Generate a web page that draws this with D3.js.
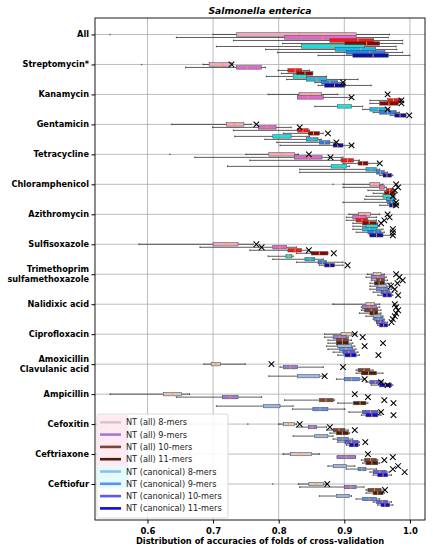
<!DOCTYPE html>
<html><head><meta charset="utf-8">
<script src="https://cdn.jsdelivr.net/npm/d3@7"></script>
<style>body{margin:0;background:#fff} svg{display:block}</style>
</head><body><svg id="c" width="433" height="550"></svg>
<script>
const categories = ["All","Streptomycin*","Kanamycin","Gentamicin","Tetracycline","Chloramphenicol","Azithromycin","Sulfisoxazole","Trimethoprim\nsulfamethoxazole","Nalidixic acid","Ciprofloxacin","Amoxicillin\nClavulanic acid","Ampicillin","Cefoxitin","Ceftriaxone","Ceftiofur"];
const seriesNames = ["NT (all) 8-mers","NT (all) 9-mers","NT (all) 10-mers","NT (all) 11-mers","NT (canonical) 8-mers","NT (canonical) 9-mers","NT (canonical) 10-mers","NT (canonical) 11-mers"];
const xTicks = [0.6,0.7,0.8,0.9,1.0];
// [whisker low, Q1, median, Q3, whisker high] per category, per series
const boxStats = [
 [[0.700,0.736,0.831,0.918,0.969],[0.644,0.809,0.867,0.918,0.967],[0.731,0.878,0.921,0.945,0.989],[0.806,0.901,0.934,0.954,0.989],[0.705,0.835,0.883,0.931,0.979],[0.780,0.886,0.925,0.948,0.980],[0.798,0.903,0.939,0.962,0.989],[0.860,0.913,0.944,0.967,1.000]],
 [[0.685,0.694,0.715,0.728,0.730],[0.658,0.736,0.752,0.774,0.780],[0.799,0.814,0.825,0.835,0.847],[0.804,0.827,0.840,0.852,0.852],[0.781,0.822,0.832,0.842,0.873],[0.812,0.842,0.858,0.873,0.921],[0.855,0.865,0.878,0.890,0.901],[0.860,0.870,0.885,0.901,0.941]],
 [[0.784,0.831,0.848,0.865,0.890],[0.829,0.829,0.845,0.868,0.911],[0.939,0.966,0.975,0.987,0.987],[0.939,0.954,0.968,0.982,0.982],[0.855,0.890,0.900,0.911,0.928],[0.928,0.939,0.952,0.964,0.969],[0.944,0.954,0.966,0.979,0.984],[0.970,0.977,0.985,0.994,0.994]],
 [[0.637,0.720,0.733,0.747,0.758],[0.699,0.769,0.782,0.796,0.819],[0.731,0.829,0.837,0.845,0.847],[0.807,0.845,0.853,0.862,0.868],[0.733,0.791,0.805,0.819,0.847],[0.779,0.842,0.851,0.860,0.865],[0.797,0.862,0.870,0.878,0.888],[0.802,0.883,0.890,0.898,0.913]],
 [[0.750,0.785,0.805,0.824,0.830],[0.672,0.824,0.845,0.866,0.898],[0.756,0.895,0.905,0.914,0.923],[0.898,0.921,0.928,0.936,0.951],[0.722,0.880,0.892,0.903,0.908],[0.832,0.933,0.941,0.949,0.954],[0.832,0.949,0.955,0.961,0.966],[0.954,0.959,0.965,0.972,0.974]],
 [[0.898,0.939,0.946,0.954,0.959],[0.898,0.954,0.958,0.961,0.964],[0.936,0.964,0.969,0.974,0.977],[0.944,0.961,0.969,0.977,0.979],[0.933,0.959,0.965,0.972,0.977],[0.931,0.964,0.970,0.977,0.979],[0.898,0.966,0.972,0.977,0.979],[0.954,0.969,0.974,0.979,0.982]],
 [[0.907,0.922,0.931,0.940,0.954],[0.903,0.913,0.923,0.933,0.949],[0.903,0.918,0.927,0.936,0.949],[0.913,0.928,0.938,0.949,0.951],[0.913,0.933,0.942,0.951,0.954],[0.913,0.928,0.938,0.949,0.959],[0.918,0.936,0.946,0.956,0.961],[0.939,0.939,0.949,0.959,0.974]],
 [[0.587,0.700,0.720,0.738,0.761],[0.680,0.791,0.802,0.812,0.827],[0.756,0.814,0.825,0.835,0.847],[0.827,0.850,0.862,0.875,0.875],[0.784,0.811,0.815,0.820,0.822],[0.791,0.840,0.848,0.855,0.868],[0.827,0.860,0.867,0.873,0.898],[0.862,0.870,0.878,0.885,0.898]],
 [[0.935,0.944,0.950,0.956,0.961],[0.933,0.941,0.951,0.961,0.964],[0.941,0.949,0.955,0.961,0.966],[0.939,0.946,0.953,0.961,0.972],[0.939,0.951,0.958,0.964,0.969],[0.939,0.949,0.958,0.966,0.972],[0.944,0.956,0.962,0.969,0.974],[0.951,0.959,0.965,0.972,0.974]],
 [[0.883,0.933,0.940,0.946,0.954],[0.926,0.928,0.938,0.949,0.954],[0.926,0.931,0.941,0.951,0.956],[0.923,0.939,0.945,0.951,0.956],[0.933,0.944,0.950,0.956,0.959],[0.944,0.946,0.952,0.959,0.961],[0.949,0.949,0.955,0.961,0.966],[0.951,0.954,0.960,0.966,0.969]],
 [[0.870,0.895,0.903,0.911,0.918],[0.870,0.883,0.893,0.903,0.906],[0.875,0.888,0.897,0.906,0.911],[0.875,0.888,0.897,0.906,0.913],[0.873,0.890,0.900,0.911,0.916],[0.875,0.893,0.903,0.913,0.918],[0.883,0.898,0.907,0.916,0.921],[0.890,0.901,0.910,0.918,0.923]],
 [[0.686,0.697,0.704,0.711,0.749],[0.802,0.807,0.818,0.829,0.868],[0.918,0.921,0.930,0.939,0.944],[0.918,0.926,0.937,0.949,0.959],[0.785,0.829,0.845,0.862,0.870],[0.888,0.900,0.911,0.923,0.931],[0.933,0.939,0.947,0.956,0.959],[0.941,0.954,0.963,0.972,0.974]],
 [[0.543,0.624,0.638,0.652,0.664],[0.644,0.714,0.726,0.738,0.774],[0.809,0.862,0.872,0.883,0.885],[0.890,0.914,0.924,0.933,0.936],[0.705,0.777,0.790,0.802,0.822],[0.821,0.852,0.863,0.875,0.901],[0.907,0.928,0.940,0.951,0.954],[0.926,0.933,0.942,0.951,0.956]],
 [[0.800,0.807,0.815,0.824,0.827],[0.827,0.845,0.851,0.858,0.873],[0.873,0.883,0.892,0.901,0.906],[0.878,0.888,0.897,0.906,0.908],[0.822,0.855,0.865,0.875,0.883],[0.883,0.890,0.897,0.906,0.913],[0.890,0.901,0.911,0.921,0.923],[0.903,0.908,0.915,0.921,0.923]],
 [[0.807,0.818,0.834,0.850,0.862],[0.889,0.889,0.903,0.917,0.917],[0.926,0.931,0.940,0.949,0.951],[0.928,0.933,0.942,0.951,0.954],[0.875,0.883,0.893,0.903,0.916],[0.903,0.921,0.927,0.933,0.949],[0.939,0.944,0.954,0.964,0.969],[0.944,0.951,0.959,0.966,0.972]],
 [[0.830,0.846,0.857,0.868,0.873],[0.832,0.900,0.910,0.918,0.930],[0.933,0.936,0.946,0.956,0.961],[0.933,0.944,0.951,0.959,0.961],[0.862,0.888,0.898,0.908,0.911],[0.918,0.928,0.938,0.949,0.954],[0.944,0.949,0.958,0.966,0.972],[0.951,0.956,0.962,0.969,0.974]]
];
// outlier points: [category index, series index, value]
const fliers = [[0,0,0.543],[1,0,0.591],[4,0,0.634],[5,0,0.883],[9,0,0.883],[13,0,0.753],[14,0,0.807],[15,0,0.791]];
// cross markers: [category index, series index, value]
const crossMarks = [
 [1,0,0.728],[1,6,0.898],
 [2,0,0.966],[2,1,0.911],[2,2,0.987],[2,3,0.987],[2,5,0.966],[2,7,0.999],
 [3,0,0.766],[3,1,0.832],[3,3,0.875],[3,6,0.888],[3,7,0.911],
 [4,0,0.846],[4,1,0.879],[4,3,0.954],
 [5,0,0.979],[5,1,0.982],[5,2,0.977],[5,4,0.974],[5,6,0.979],[5,7,0.979],
 [6,0,0.966],[6,1,0.969],[6,2,0.961],[6,3,0.956],[6,5,0.974],[6,6,0.974],[6,7,0.974],
 [7,0,0.766],[7,1,0.774],[7,2,0.846],[7,3,0.884],[7,7,0.905],
 [8,0,0.979],[8,1,0.984],[8,2,0.989],[8,3,0.981],[8,4,0.971],[8,5,0.977],[8,7,0.982],
 [9,0,0.977],[9,1,0.979],[9,2,0.982],[9,3,0.979],[9,4,0.977],[9,5,0.974],[9,6,0.972],
 [10,0,0.916],[10,1,0.928],[10,3,0.959],[10,4,0.931],[10,7,0.952],
 [11,0,0.789],[11,1,0.898],[11,4,0.870],[11,5,0.931],[11,6,0.956],[11,7,0.966],
 [12,0,0.916],[12,1,0.936],[12,2,0.961],[12,3,0.975],[12,6,0.956],[12,7,0.975],
 [13,0,0.832],[13,1,0.878],[13,2,0.916],[13,6,0.932],
 [14,0,0.936],[14,1,0.974],[14,2,0.961],[14,4,0.982],[14,5,0.974],[14,6,0.992],
 [15,0,0.874],[15,2,0.962]
];

// styles
const vivid = ["#f3a9bd","#e466cf","#ff1414","#8e0508","#10e4e4","#19b8ea","#2a7df5","#0a10a8"];
const muted = ["#dac6c6","#a17ad6","#7b4537","#4a1e0c","#95b9f2","#5c8ff1","#5a5cf0","#0a0ae0"];

const svg = d3.select("#c");
const W = 433, H = 550;
const mL = 95, mR = 425, mT = 18, mB = 520;
const x = d3.scaleLinear().domain([0.52, 1.023]).range([mL, mR]);
const y = d3.scaleLinear().domain([-0.55, 16.2]).range([mT, mB]);
const step = 0.1, bh = y(0.115) - y(0);

svg.append("rect").attr("width", W).attr("height", H).attr("fill", "#fff");

// grid
const g = svg.append("g");
g.selectAll(".vg").data(xTicks).join("line")
  .attr("x1", d => x(d)).attr("x2", d => x(d)).attr("y1", mT).attr("y2", mB)
  .attr("stroke", "#b4b4b4").attr("stroke-width", 0.9);
g.selectAll(".hg").data(categories).join("line")
  .attr("x1", mL).attr("x2", mR).attr("y1", (d,i) => y(i)).attr("y2", (d,i) => y(i))
  .attr("stroke", "#b4b4b4").attr("stroke-width", 0.9);

// boxes
const items = [];
boxStats.forEach((cat, ci) => cat.forEach((s, si) => items.push({ci, si, s})));
const bg = svg.append("g");
items.forEach(d => {
  const cy = y(d.ci + d.si * step);
  const [lo, q1, med, q3, hi] = d.s;
  const col = (d.ci < 8 ? vivid : muted)[d.si];
  bg.append("line").attr("x1", x(lo)).attr("x2", x(q1)).attr("y1", cy).attr("y2", cy).attr("stroke", "#333").attr("stroke-width", 0.8);
  bg.append("line").attr("x1", x(q3)).attr("x2", x(hi)).attr("y1", cy).attr("y2", cy).attr("stroke", "#333").attr("stroke-width", 0.8);
  [lo, hi].forEach(v => bg.append("line").attr("x1", x(v)).attr("x2", x(v)).attr("y1", cy - bh/4).attr("y2", cy + bh/4).attr("stroke", "#333").attr("stroke-width", 0.8));
  bg.append("rect").attr("x", x(q1)).attr("y", cy - bh/2).attr("width", Math.max(0.5, x(q3) - x(q1))).attr("height", bh)
    .attr("fill", col).attr("stroke", "#444").attr("stroke-width", 0.5);
  bg.append("line").attr("x1", x(med)).attr("x2", x(med)).attr("y1", cy - bh/2).attr("y2", cy + bh/2).attr("stroke", "#ff9a2e").attr("stroke-width", 0.9);
});
bg.selectAll(".fl").data(fliers).join("circle")
  .attr("cx", d => x(d[2])).attr("cy", d => y(d[0] + d[1] * step)).attr("r", 0.8).attr("fill", "#555");
bg.selectAll(".cx").data(crossMarks).join("path")
  .attr("transform", d => `translate(${x(d[2])},${y(d[0] + d[1] * step)})`)
  .attr("d", "M-2.8,-2.8L2.8,2.8M-2.8,2.8L2.8,-2.8").attr("stroke", "#000").attr("stroke-width", 1.05);

// frame
svg.append("rect").attr("x", mL).attr("y", mT).attr("width", mR - mL).attr("height", mB - mT)
  .attr("fill", "none").attr("stroke", "#000").attr("stroke-width", 0.9);

// axes
const xa = svg.append("g").attr("transform", `translate(0,${mB})`)
  .call(d3.axisBottom(x).tickValues(xTicks).tickFormat(d3.format(".1f")).tickSize(3.5));
xa.select(".domain").remove();
xa.selectAll("text").attr("font-family", "DejaVu Sans").attr("font-weight", "bold").attr("font-size", 8.5).attr("dy", "0.85em").attr("fill", "#000");

const ya = svg.append("g").attr("transform", `translate(${mL},0)`)
  .call(d3.axisLeft(y).tickValues(d3.range(categories.length)).tickFormat("").tickSize(3.5));
ya.select(".domain").remove();
categories.forEach((c, i) => {
  const lines = c.split("\n");
  const t = svg.append("text").attr("x", mL - 6).attr("text-anchor", "end")
    .attr("font-family", "DejaVu Sans").attr("font-weight", "bold").attr("font-size", 8.2).attr("fill", "#000");
  lines.forEach((l, k) => t.append("tspan").attr("x", mL - 6)
    .attr("y", y(i) + 3 + (k - (lines.length - 1) / 2) * 10.5).text(l));
});

// title and x label
svg.append("text").attr("x", (mL + mR) / 2).attr("y", 14).attr("text-anchor", "middle")
  .attr("font-family", "DejaVu Sans").attr("font-weight", "bold").attr("font-style", "italic").attr("font-size", 9.2)
  .text("Salmonella enterica");
svg.append("text").attr("x", (mL + mR) / 2).attr("y", 544).attr("text-anchor", "middle")
  .attr("font-family", "DejaVu Sans").attr("font-weight", "bold").attr("font-size", 8.3)
  .text("Distribution of accuracies of folds of cross-validation");

// legend
const lg = svg.append("g");
lg.append("rect").attr("x", 97).attr("y", 414).attr("width", 131).attr("height", 104).attr("rx", 2)
  .attr("fill", "#fff").attr("fill-opacity", 0.85).attr("stroke", "#d0d0d0").attr("stroke-width", 0.8);
lg.append("rect").attr("x", 97.5).attr("y", 415).attr("width", 31).attr("height", 51).attr("fill", "#fdeaf2");
lg.append("rect").attr("x", 97.5).attr("y", 466).attr("width", 31).attr("height", 22).attr("fill", "#e4fbfb");
seriesNames.forEach((n, i) => {
  const ly = 422.3 + i * 12.3;
  lg.append("line").attr("x1", 100).attr("x2", 121).attr("y1", ly).attr("y2", ly)
    .attr("stroke", muted[i]).attr("stroke-width", 2.6);
  lg.append("text").attr("x", 126).attr("y", ly + 3).attr("font-family", "DejaVu Sans").attr("font-size", 8.2)
    .attr("fill", "#222").text(n);
});
</script></body></html>
